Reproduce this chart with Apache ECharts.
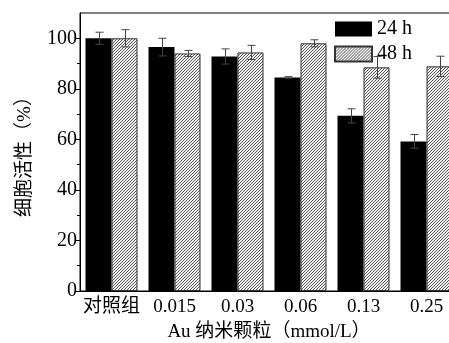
<!DOCTYPE html>
<html>
<head>
<meta charset="utf-8">
<script src="https://cdn.jsdelivr.net/npm/echarts@6/dist/echarts.min.js"></script>
<style>
  html, body { margin: 0; padding: 0; background: #fff; }
  #cellChart { width: 449px; height: 343px; }
</style>
</head>
<body>
<div id="cellChart"></div>
<script>
  // 数据
  var groups = ['对照组', '0.015', '0.03', '0.06', '0.13', '0.25']
  var h24 = [100, 96.5, 92.8, 84.5, 69.3, 59.2]
  var h24Err = [2.4, 3.5, 3.0, 0.3, 2.8, 2.7]
  var h48 = [100, 94.0, 94.4, 98.0, 88.5, 88.9]
  var h48Err = [3.4, 1.2, 2.8, 1.4, 4.3, 4.0]
  var yTicks = [0, 20, 40, 60, 80, 100]
  var yMinorTicks = [0, 10, 20, 30, 40, 50, 60, 70, 80, 90, 100]

  var font = "'Liberation Serif', 'DejaVu Serif', 'Noto Sans CJK SC'"

  // 斜线填充 (3px 一条)
  function hatch () {
    var c = document.createElement('canvas')
    c.width = 3
    c.height = 3
    var ctx = c.getContext('2d')
    ctx.fillStyle = '#f2f2f2'
    ctx.fillRect(0, 0, 3, 3)
    ctx.fillStyle = '#5a5a5a'
    ctx.fillRect(0, 2, 1, 1)
    ctx.fillRect(1, 1, 1, 1)
    ctx.fillRect(2, 0, 1, 1)
    return c
  }

  // 误差线
  function errorSeries (vals, errs, shift) {
    return {
      type: 'custom',
      silent: true,
      z: 5,
      data: vals.map(function (v, i) { return [i, v, errs[i]] }),
      renderItem: function (params, api) {
        var i = api.value(0)
        var top = api.coord([i, api.value(1) + api.value(2)])
        var bot = api.coord([i, api.value(1) - api.value(2)])
        var x = Math.round(top[0] + shift) + 0.5
        var style = { stroke: '#444', lineWidth: 1 }
        return {
          type: 'group',
          children: [
            { type: 'line', shape: { x1: x, y1: top[1], x2: x, y2: bot[1] }, style: style },
            { type: 'line', shape: { x1: x - 4, y1: top[1], x2: x + 4, y2: top[1] }, style: style },
            { type: 'line', shape: { x1: x - 4, y1: bot[1], x2: x + 4, y2: bot[1] }, style: style }
          ]
        }
      }
    }
  }

  var myChart = echarts.init(document.getElementById('cellChart'))
  myChart.setOption({
    animation: false,
    textStyle: { fontFamily: font },
    legend: {
      data: ['24 h', '48 h'],
      orient: 'vertical',
      left: 334,
      top: 19,
      padding: 0,
      itemWidth: 37,
      itemHeight: 15,
      itemGap: 5,
      icon: 'rect',
      textStyle: { fontFamily: font, fontSize: 20, color: '#000' }
    },
    grid: {
      left: 80,
      right: -9,
      top: 13,
      bottom: 52,
      containLabel: false,
      outerBoundsMode: 'none',
      show: true,
      borderColor: '#000',
      borderWidth: 1,
      backgroundColor: 'transparent'
    },
    xAxis: {
      type: 'category',
      data: groups,
      axisLine: { lineStyle: { color: '#000' } },
      axisTick: { show: false },
      axisLabel: { interval: 0, color: '#000', fontSize: 19, margin: 7, fontFamily: font },
      name: 'Au 纳米颗粒（mmol/L）',
      nameLocation: 'middle',
      nameGap: 32,
      nameTextStyle: { color: '#000', fontSize: 19, fontFamily: font }
    },
    yAxis: [
      {
        type: 'value',
        min: 0,
        max: 110,
        interval: 10,
        splitLine: { show: false },
        axisLine: { show: true, lineStyle: { color: '#000' } },
        axisTick: { show: true, length: 5, customValues: yTicks, lineStyle: { color: '#000' } },
        axisLabel: { color: '#000', fontSize: 20, margin: 3, customValues: yTicks, fontFamily: font },
        name: '细胞活性（%）',
        nameLocation: 'middle',
        nameGap: 45,
        nameTextStyle: { color: '#000', fontSize: 19, fontFamily: font }
      },
      {
        type: 'value',
        min: 0,
        max: 110,
        interval: 10,
        position: 'left',
        splitLine: { show: false },
        axisLine: { show: false },
        axisTick: { show: true, length: 3, customValues: yMinorTicks, lineStyle: { color: '#000' } },
        axisLabel: { show: false }
      }
    ],
    series: [
      {
        name: '24 h',
        type: 'bar',
        barWidth: 26,
        barGap: '0%',
        itemStyle: { color: '#000' },
        data: h24
      },
      {
        name: '48 h',
        type: 'bar',
        barWidth: 26,
        barGap: '0%',
        itemStyle: { color: { image: hatch(), repeat: 'repeat' }, borderColor: '#333', borderWidth: 1 },
        data: h48
      },
      errorSeries(h24, h24Err, -13),
      errorSeries(h48, h48Err, 13)
    ]
  })
</script>
</body>
</html>
